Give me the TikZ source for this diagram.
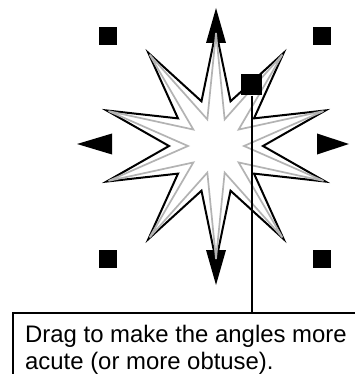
\documentclass[tikz,border=0pt]{standalone}
\usepackage{fontspec}
\setmainfont{Liberation Sans}
\definecolor{stargray}{HTML}{B3B3B3}
\tikzset{
  x=1pt, y=-1pt,
  handlebox/.style={fill=black, draw=none, minimum size=#1, inner sep=0pt, shape=rectangle},
  arrowhead/.style={fill=black, draw=none},
  starblack/.style={draw=black, fill=white, line width=2pt, line join=miter},
  stargrey/.style={draw=stargray, line width=1.7pt, line join=miter},
  link/.style={draw=black, line width=2pt},
  notetext/.style={anchor=base west, inner sep=0pt, font=\fontsize{23.9}{27}\selectfont},
}
\begin{document}
\begin{tikzpicture}
\useasboundingbox (0,0) rectangle (355,374);
\clip (0,0) rectangle (355,374);
% corner handles
\node[handlebox=18pt] (hTL) at (108,36) {};
\node[handlebox=18pt] (hTR) at (322,36) {};
\node[handlebox=18pt] (hBL) at (108,259) {};
\node[handlebox=18pt] (hBR) at (322,259) {};
% direction arrowheads
\fill[arrowhead] (216,8) -- (226,43) -- (206,43) -- cycle;
\fill[arrowhead] (216,285) -- (226,250) -- (206,250) -- cycle;
\fill[arrowhead] (77,144) -- (112,133.5) -- (112,154.5) -- cycle;
\fill[arrowhead] (349,144) -- (317,133.5) -- (317,154.5) -- cycle;
% black star
\draw[starblack] plot[samples at={0,1,...,19}, variable=\k]
  ({216+(mod(\k,2)==0 ? 115 : 47)*cos(90+18*\k)}, {146+(mod(\k,2)==0 ? 115 : 47)*sin(90+18*\k)}) -- cycle;
% grey star
\draw[stargrey] plot[samples at={0,1,...,19}, variable=\k]
  ({216+(mod(\k,2)==0 ? 113 : 28)*cos(90+18*\k)}, {146+(mod(\k,2)==0 ? 113 : 28)*sin(90+18*\k)}) -- cycle;
% angle handle
\node[handlebox=21pt] (hAngle) at (251.5,85) {};
% note box
\draw[link] (13,380) -- (13,313) -- (360,313);
\coordinate (boxtop) at (252,313);
\draw[link] (hAngle.south -| boxtop) -- (boxtop);
\node[notetext] (line1) at (25,342) {Drag to make the angles more};
\node[notetext] (line2) at (25,369) {acute (or more obtuse).};
\end{tikzpicture}
\end{document}
